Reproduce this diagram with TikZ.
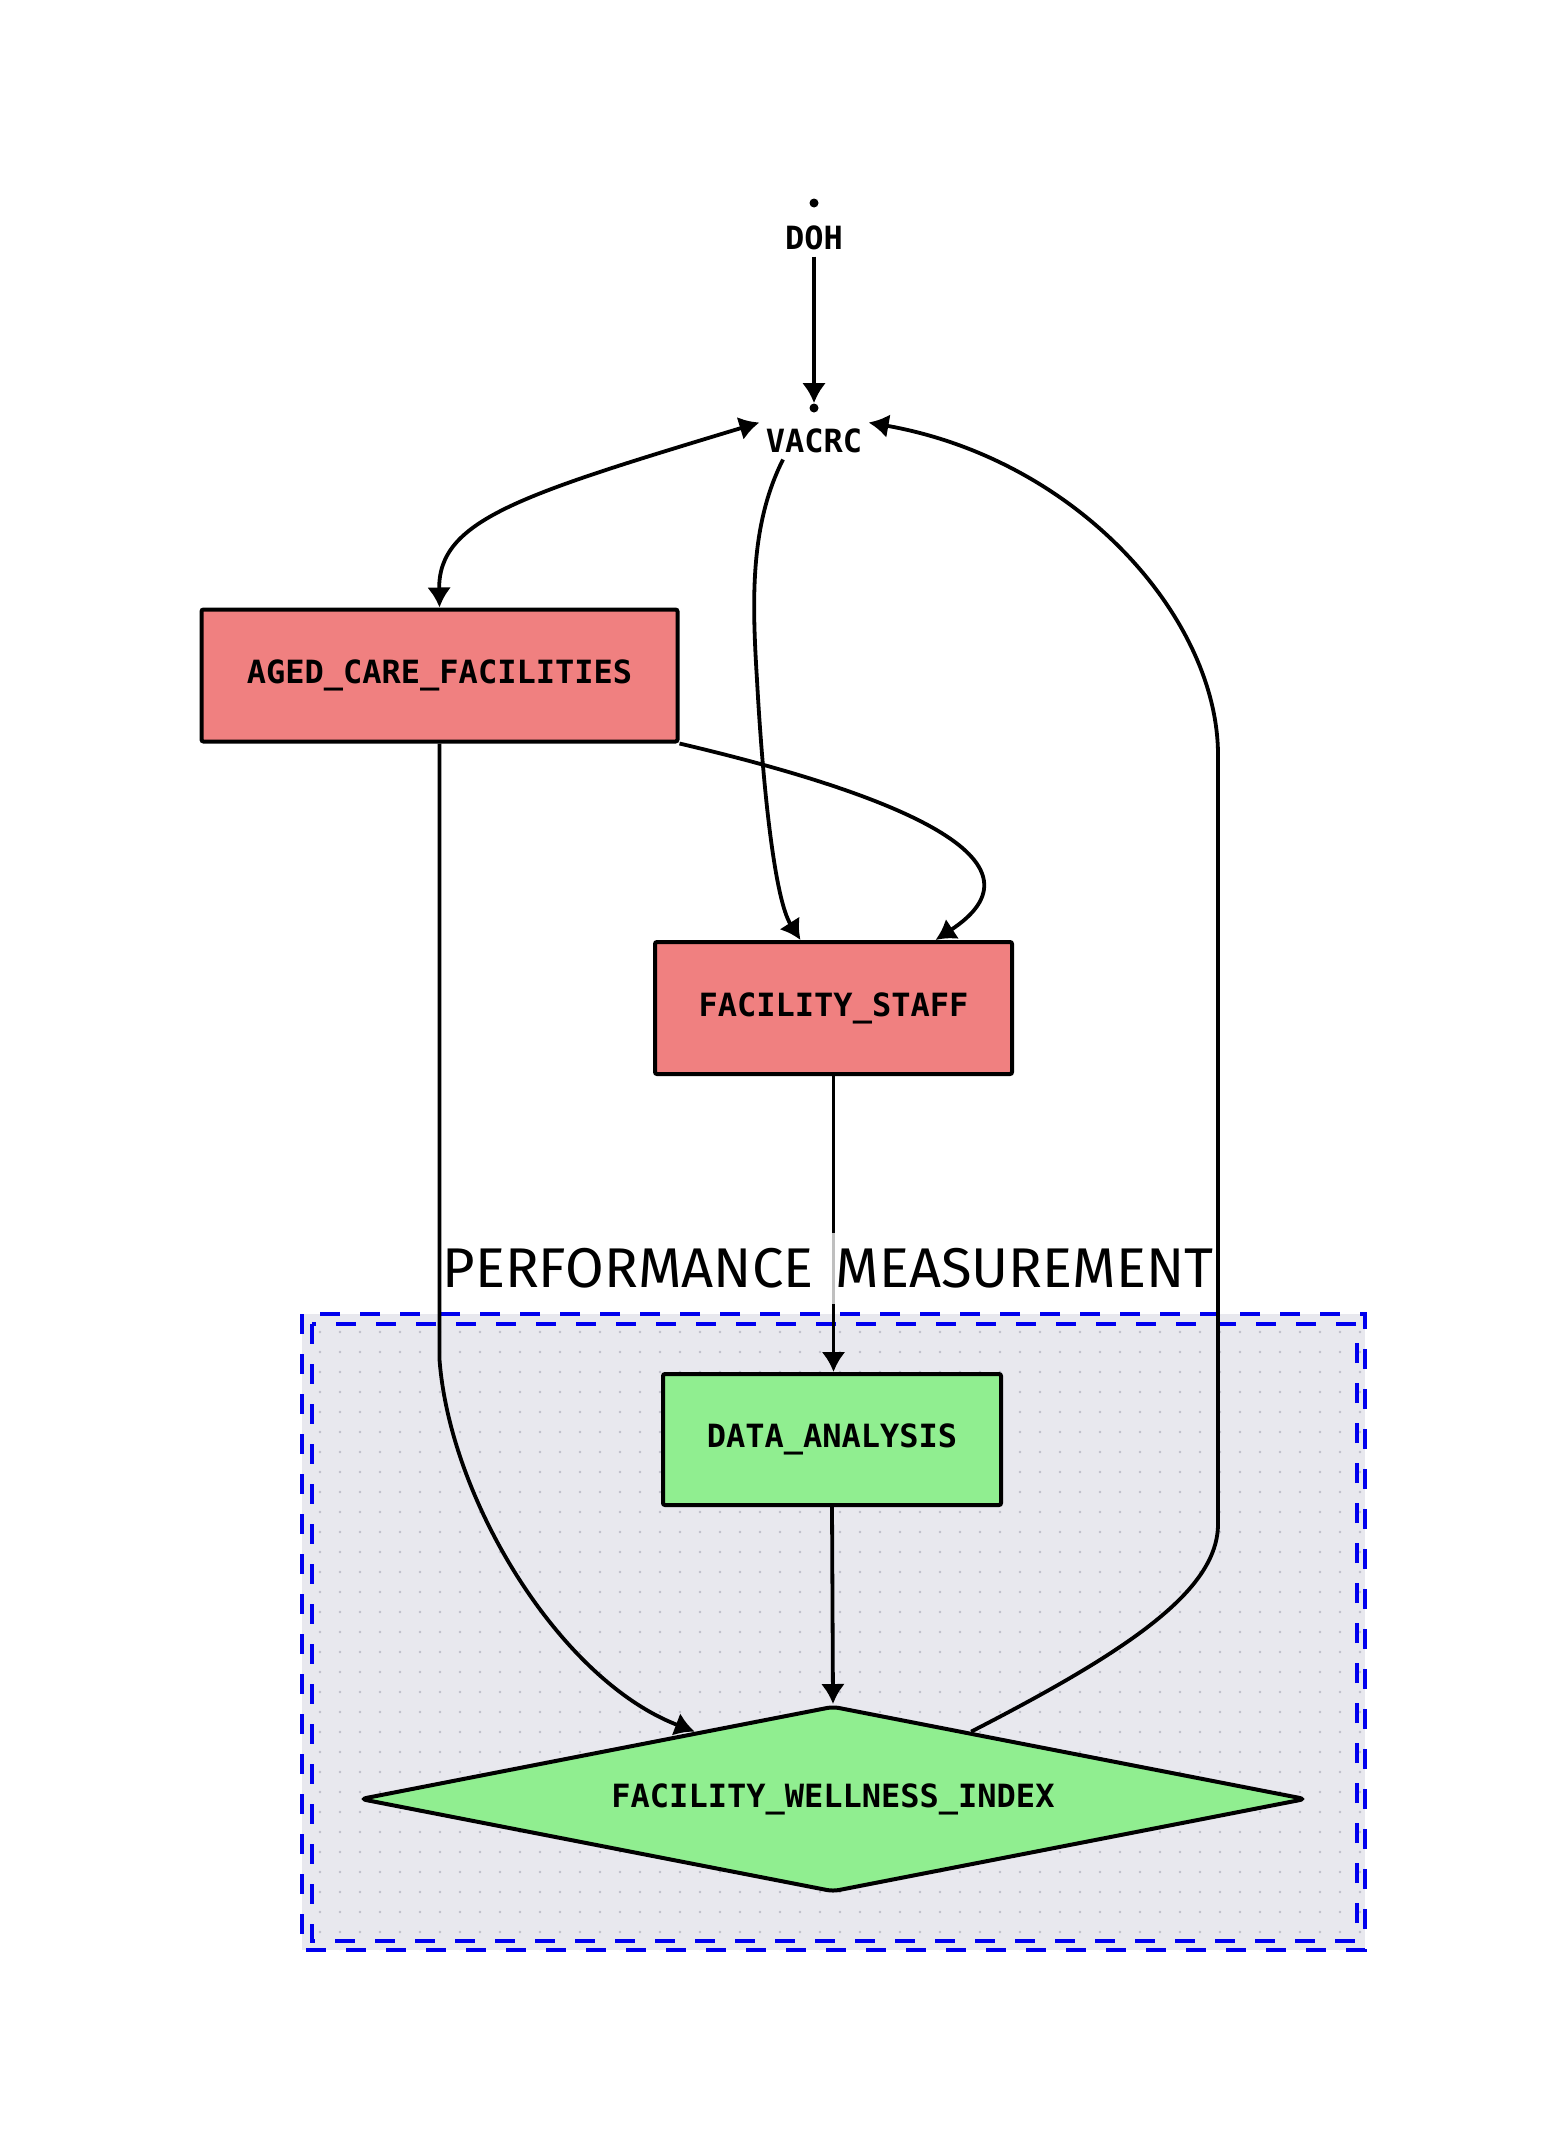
\documentclass[tikz,border=0pt]{standalone}
\usepackage{fontspec}
\setmonofont{DejaVu Sans Mono}
\newfontfamily\titlefont{Fira Sans}
\usetikzlibrary{shapes.geometric,arrows.meta,patterns.meta}
\definecolor{staffred}{HTML}{F08080}
\definecolor{wellgreen}{HTML}{90EE90}
\definecolor{clusterbg}{HTML}{E8E8EE}
\definecolor{clusterdot}{HTML}{BDBDC9}
\definecolor{clusterblue}{HTML}{0000EE}
\tikzset{
  actor/.style={font=\ttfamily\bfseries\fontsize{16}{18}\selectfont, inner sep=3pt},
  hubdot/.style={circle, fill=black, inner sep=0pt, minimum size=4.5pt},
  facbox/.style={actor, draw=black, line width=2pt, rounded corners=1pt, fill=staffred, minimum height=66pt},
  evalbox/.style={actor, draw=black, line width=2pt, rounded corners=1pt, fill=wellgreen, minimum height=65.5pt},
  indexdiamond/.style={actor, diamond, draw=black, line width=2pt, rounded corners=3pt, fill=wellgreen,
    aspect=5, minimum width=473pt, minimum height=93pt},
  flow/.style={line width=1.9pt, -{Latex[length=10pt,width=12pt]}},
  clusterline/.style={clusterblue, line width=2pt, dash pattern=on 10pt off 10pt},
  grouplabel/.style={font=\titlefont\fontsize{28}{30}\selectfont, fill=white, fill opacity=0.75, text opacity=1,
    inner sep=0pt, minimum width=384pt, minimum height=35.5pt}
}
\begin{document}
\begin{tikzpicture}[x=0.5pt, y=-0.5pt]
\useasboundingbox (0,0) rectangle (1568,2152);
% performance measurement group
\fill[clusterbg] (302,1314) rectangle (1365,1950);
\fill[pattern={Dots[distance=10pt,radius=0.7pt]}, pattern color=clusterdot] (302,1314) rectangle (1365,1950);
\draw[clusterline] (302,1314) rectangle (1365,1950);
\draw[clusterline] (312,1324) rectangle (1357,1941);
% nodes
\node [hubdot] (dohdot) at (814,203) {};
\node [actor] (doh) at (814,238) {DOH};
\node [hubdot] (vacrcdot) at (814,408) {};
\node [actor] (vacrc) at (814,441) {VACRC};
\node [facbox, minimum width=238pt] (aged) at (439.5,675.5) {AGED\_CARE\_FACILITIES};
\node [facbox, minimum width=178.5pt] (staff) at (833.5,1008) {FACILITY\_STAFF};
\node [evalbox, minimum width=169pt] (data) at (832,1439.5) {DATA\_ANALYSIS};
\node [indexdiamond] (fwi) at (833,1799) {FACILITY\_WELLNESS\_INDEX};
% connectors
\draw [flow] (doh.south) -- (vacrcdot.north);
\draw [flow, {Latex[length=10pt,width=12pt]}-{Latex[length=10pt,width=12pt]}]
  (vacrc.north west) .. controls (520,495) and (438,520) .. (aged.north);
\draw [flow] ([xshift=-15.5pt]vacrc.south) .. controls (750,525) and (752,600) .. (757,680)
  .. controls (763,790) and (775,900) .. ([xshift=-16.5pt]staff.north);
\draw [flow] (aged.south east) .. controls (920,800) and (1050,865) .. ([xshift=51pt]staff.north);
\draw [flow] (aged.south) -- ++(0,616) .. controls (450,1500) and (560,1680) .. (fwi.154.8);
\draw [flow] (staff.south) -- (staff.south |- data.north);
\draw [flow] (data.south) -- (fwi.north);
\draw [flow] (fwi.26.7) .. controls (1130,1650) and (1218,1590) .. (1218,1524) -- (1218,755)
  .. controls (1218,620) and (1080,460) .. (vacrc.north east);
% group title
\node [grouplabel] (perf) at (828,1268) {PERFORMANCE\hspace{0.4em}MEASUREMENT};
\end{tikzpicture}
\end{document}
